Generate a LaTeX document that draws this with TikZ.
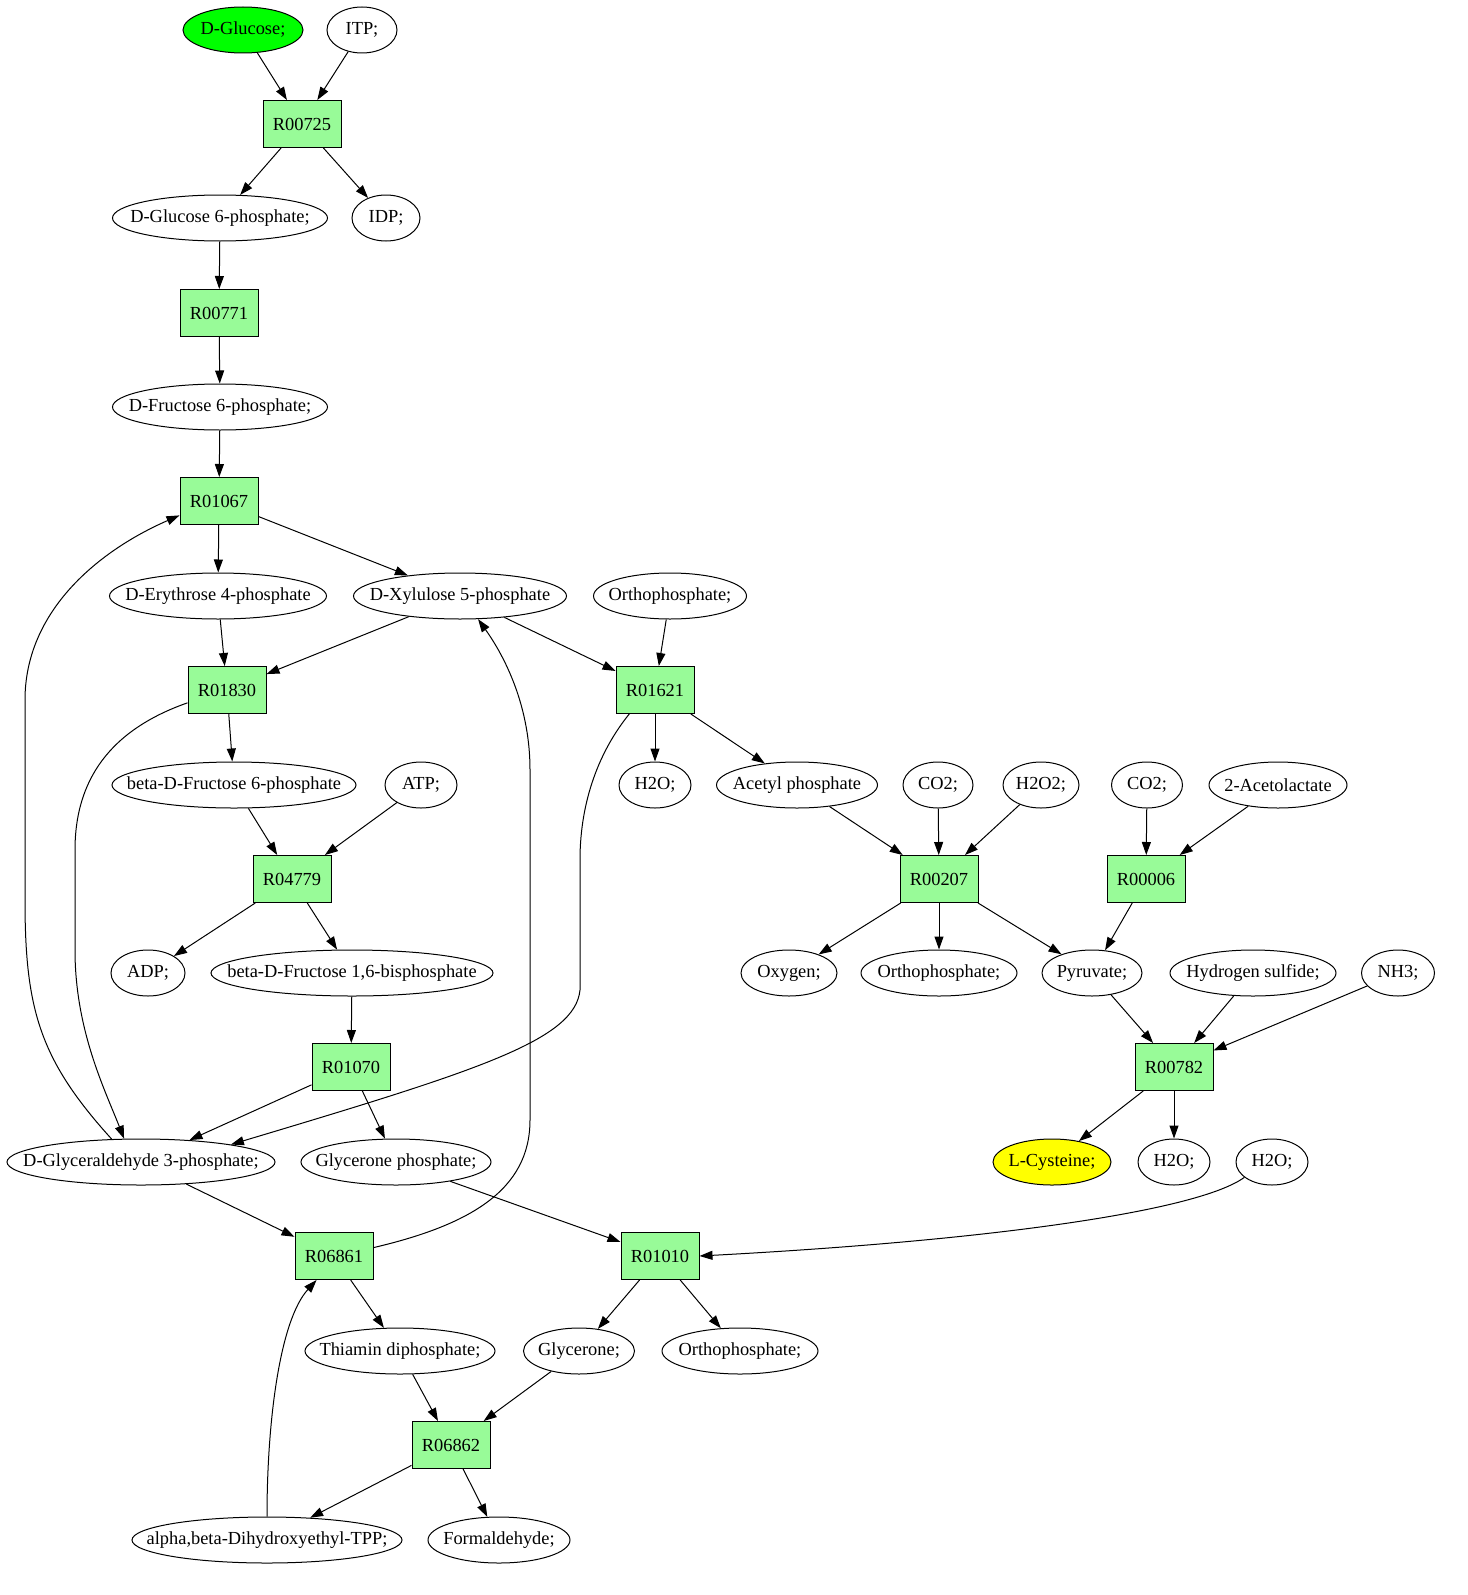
\documentclass[tikz,border=0pt]{standalone}
\usepackage{fontspec}
\setmainfont{Liberation Serif}
\usetikzlibrary{shapes.geometric,arrows.meta}

\definecolor{rxngreen}{HTML}{98FB98}
\definecolor{glcgreen}{HTML}{00FF00}
\definecolor{cysyellow}{HTML}{FFFF00}
% label without width, so the ellipse keeps the given size
\newcommand{\lbl}[1]{\makebox[0pt]{#1}}

\begin{document}
\begin{tikzpicture}[x=1pt, y=-1pt,
    font=\fontsize{18.4}{22}\selectfont,
    line width=1pt,
    >={Triangle[length=13pt,width=9pt]},
    met/.style={ellipse, draw, inner sep=0pt, minimum height=46pt, minimum width=#1},
    rxn/.style={rectangle, draw, fill=rxngreen, minimum width=78pt, minimum height=47pt}]
    \useasboundingbox (0,0) rectangle (1467,1595);

    % Compounds
    \node[met=120, fill=glcgreen] (glc) at (243,30) {\lbl{D-Glucose;}};
    \node[met=70] (itp) at (362,30) {\lbl{ITP;}};
    \node[met=215] (g6p) at (220,218) {\lbl{D-Glucose 6-phosphate;}};
    \node[met=68] (idp) at (386,218) {\lbl{IDP;}};
    \node[met=215] (f6p) at (220,407) {\lbl{D-Fructose 6-phosphate;}};
    \node[met=217] (e4p) at (218,596) {\lbl{D-Erythrose 4-phosphate}};
    \node[met=213] (xu5p) at (460,596) {\lbl{D-Xylulose 5-phosphate}};
    \node[met=153] (pia) at (670,596) {\lbl{Orthophosphate;}};
    \node[met=244] (bf6p) at (234,785) {\lbl{beta-D-Fructose 6-phosphate}};
    \node[met=72] (atp) at (421,785) {\lbl{ATP;}};
    \node[met=72] (h2oa) at (655,785) {\lbl{H2O;}};
    \node[met=161] (acp) at (797,785) {\lbl{Acetyl phosphate}};
    \node[met=70] (co2a) at (938,785) {\lbl{CO2;}};
    \node[met=76] (h2o2) at (1041,785) {\lbl{H2O2;}};
    \node[met=71] (co2b) at (1147,785) {\lbl{CO2;}};
    \node[met=138] (acl) at (1278,785) {\lbl{2-Acetolactate}};
    \node[met=74] (adp) at (148,973) {\lbl{ADP;}};
    \node[met=282] (fbp) at (352,973) {\lbl{beta-D-Fructose 1,6-bisphosphate}};
    \node[met=96] (oxy) at (789,973) {\lbl{Oxygen;}};
    \node[met=156] (pib) at (939,973) {\lbl{Orthophosphate;}};
    \node[met=100] (pyr) at (1092,973) {\lbl{Pyruvate;}};
    \node[met=166] (hs) at (1253,973) {\lbl{Hydrogen sulfide;}};
    \node[met=73] (nh3) at (1398,973) {\lbl{NH3;}};
    \node[met=268] (gap) at (141,1162) {\lbl{D-Glyceraldehyde 3-phosphate;}};
    \node[met=190] (dhap) at (396,1162) {\lbl{Glycerone phosphate;}};
    \node[met=118, fill=cysyellow] (cys) at (1052,1162) {\lbl{L-Cysteine;}};
    \node[met=72] (h2ob) at (1174,1162) {\lbl{H2O;}};
    \node[met=72] (h2oc) at (1272,1162) {\lbl{H2O;}};
    \node[met=190] (tpp) at (400,1351) {\lbl{Thiamin diphosphate;}};
    \node[met=111] (dha) at (579,1351) {\lbl{Glycerone;}};
    \node[met=156] (pic) at (740,1351) {\lbl{Orthophosphate;}};
    \node[met=270] (hetpp) at (267,1540) {\lbl{alpha,beta-Dihydroxyethyl-TPP;}};
    \node[met=142] (fald) at (499,1540) {\lbl{Formaldehyde;}};

    % Reactions
    \node[rxn] (r00725) at (302,124) {R00725};
    \node[rxn] (r00771) at (219,313) {R00771};
    \node[rxn] (r01067) at (219,501) {R01067};
    \node[rxn] (r01830) at (227,690) {R01830};
    \node[rxn] (r01621) at (655,690) {R01621};
    \node[rxn] (r04779) at (292,879) {R04779};
    \node[rxn] (r00207) at (939,879) {R00207};
    \node[rxn] (r00006) at (1146,879) {R00006};
    \node[rxn] (r01070) at (351,1067) {R01070};
    \node[rxn] (r00782) at (1174,1067) {R00782};
    \node[rxn] (r06861) at (334,1256) {R06861};
    \node[rxn] (r01010) at (660,1256) {R01010};
    \node[rxn] (r06862) at (451,1445) {R06862};

    % Straight edges
    \draw[->] (glc) -- (r00725);
    \draw[->] (itp) -- (r00725);
    \draw[->] (r00725) -- (g6p);
    \draw[->] (r00725) -- (idp);
    \draw[->] (g6p) -- (r00771);
    \draw[->] (r00771) -- (f6p);
    \draw[->] (f6p) -- (r01067);
    \draw[->] (r01067) -- (e4p);
    \draw[->] (r01067) -- (xu5p);
    \draw[->] (e4p) -- (r01830);
    \draw[->] (xu5p) -- (r01830);
    \draw[->] (xu5p) -- (r01621);
    \draw[->] (pia) -- (r01621);
    \draw[->] (r01830) -- (bf6p);
    \draw[->] (r01621) -- (h2oa);
    \draw[->] (r01621) -- (acp);
    \draw[->] (bf6p) -- (r04779);
    \draw[->] (atp) -- (r04779);
    \draw[->] (r04779) -- (adp);
    \draw[->] (r04779) -- (fbp);
    \draw[->] (fbp) -- (r01070);
    \draw[->] (r01070) -- (gap);
    \draw[->] (r01070) -- (dhap);
    \draw[->] (gap) -- (r06861);
    \draw[->] (r06861) -- (tpp);
    \draw[->] (dhap) -- (r01010);
    \draw[->] (r01010) -- (dha);
    \draw[->] (r01010) -- (pic);
    \draw[->] (tpp) -- (r06862);
    \draw[->] (dha) -- (r06862);
    \draw[->] (r06862) -- (hetpp);
    \draw[->] (r06862) -- (fald);
    \draw[->] (acp) -- (r00207);
    \draw[->] (co2a) -- (r00207);
    \draw[->] (h2o2) -- (r00207);
    \draw[->] (r00207) -- (oxy);
    \draw[->] (r00207) -- (pib);
    \draw[->] (r00207) -- (pyr);
    \draw[->] (co2b) -- (r00006);
    \draw[->] (acl) -- (r00006);
    \draw[->] (r00006) -- (pyr);
    \draw[->] (pyr) -- (r00782);
    \draw[->] (hs) -- (r00782);
    \draw[->] (nh3) -- (r00782);
    \draw[->] (r00782) -- (cys);
    \draw[->] (r00782) -- (h2ob);

    % Curved edges
    \draw[->] (gap.142) .. controls (40,1060) and (25,1010) .. (25,900) -- (25,700)
        .. controls (25,610) and (100,550) .. (r01067.200);
    \draw[->] (r01830.198) .. controls (110,730) and (75,780) .. (75,850) -- (75,950)
        .. controls (75,1030) and (105,1090) .. (gap.126);
    \draw[->] (r01621.223) .. controls (600,750) and (580,800) .. (580,860) -- (580,990)
        .. controls (575,1040) and (480,1070) .. (gap.11);
    \draw[->] (r06861.12) .. controls (470,1225) and (530,1190) .. (530,1120) -- (530,770)
        .. controls (530,700) and (500,650) .. (xu5p.-52);
    \draw[->] (hetpp.north) .. controls (267,1420) and (280,1320) .. (r06861.234);
    \draw[->] (h2oc.209) .. controls (1200,1210) and (1000,1240) .. (r01010.east);
\end{tikzpicture}
\end{document}
